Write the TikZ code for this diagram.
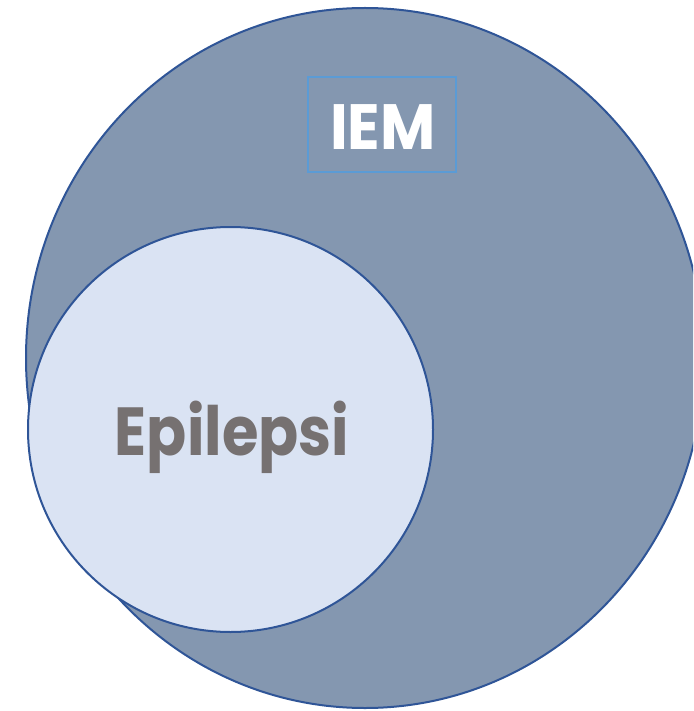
\documentclass[tikz,border=0pt]{standalone}
\usepackage{fontspec}
\setmainfont{Poppins}
\newfontfamily\setlabelfont[FakeStretch=0.87]{Poppins}
\newfontfamily\titlefont[FakeStretch=0.94]{Poppins}
\usetikzlibrary{shapes.geometric}
\definecolor{outerfill}{HTML}{8497B0}
\definecolor{ringline}{HTML}{2F5597}
\definecolor{innerfill}{HTML}{DAE3F3}
\definecolor{labelgrey}{HTML}{767171}
\definecolor{boxline}{HTML}{5B9BD5}
\tikzset{
  setshape/.style={ellipse, draw=ringline, line width=2pt, inner sep=0pt},
  titlebox/.style={draw=boxline, line width=2pt, inner sep=0pt,
    minimum width=148pt, minimum height=95pt}
}
\begin{document}
\begin{tikzpicture}[x=1pt,y=-1pt]
  \useasboundingbox (0,0) rectangle (693,711);
  \clip (0,0) rectangle (693,711);
  % outer set
  \node[setshape, fill=outerfill, minimum width=678pt, minimum height=700pt]
    (iem) at (365,358) {};
  % inner set
  \node[setshape, fill=innerfill, minimum width=405pt, minimum height=405pt]
    (epi) at (230.5,429.5) {};
  \node[anchor=base, inner sep=0pt,
        font=\setlabelfont\fontsize{68}{76}\selectfont\bfseries, text=labelgrey]
    (epilabel) at (232,455) {Epilepsi};
  % title of the outer set
  \node[titlebox] (iembox) at (382,124.5) {};
  \node[anchor=base, inner sep=0pt,
        font=\titlefont\fontsize{64}{72}\selectfont\bfseries, text=white]
    (iemlabel) at (383,150) {IEM};
\end{tikzpicture}
\end{document}
